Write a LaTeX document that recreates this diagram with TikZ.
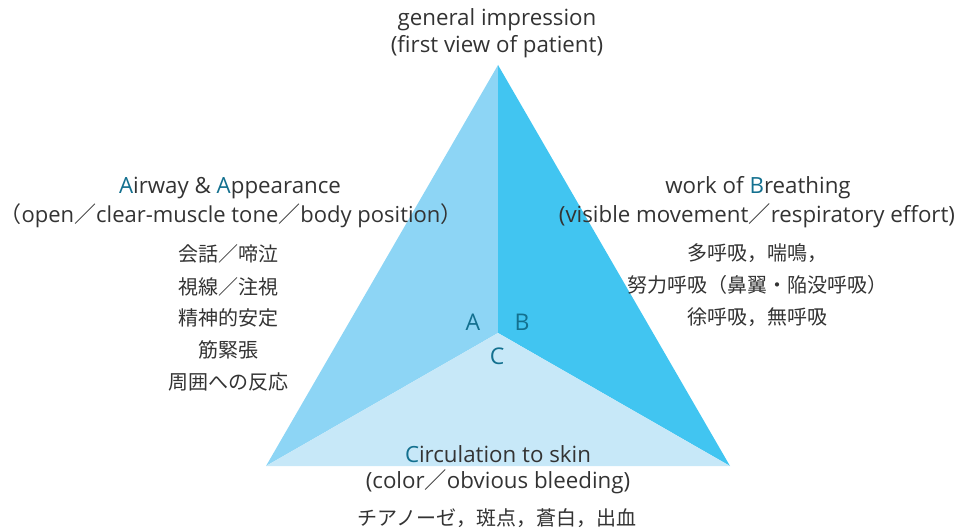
\documentclass[tikz,border=0pt]{standalone}
\usepackage{fontspec}
\setmainfont{Open Sans}
\newfontfamily\cjk{Noto Sans CJK JP}
\newcommand{\fsl}{{\cjk ／}}
\newcommand{\flp}{{\cjk （}}
\newcommand{\frp}{{\cjk ）}}
\definecolor{txt}{HTML}{333333}
\definecolor{teal}{HTML}{13708F}
\definecolor{leftblue}{HTML}{8DD5F5}
\definecolor{rightblue}{HTML}{41C5F1}
\definecolor{bottomblue}{HTML}{C7E8F8}
\begin{document}
\begin{tikzpicture}[x=1pt,y=-1pt,
  lbl/.style={text=txt,font=\fontsize{22.3}{26}\selectfont,inner sep=0pt,anchor=center},
  jp/.style={text=txt,font=\cjk\fontsize{20}{24}\selectfont,inner sep=0pt,anchor=center},
  letter/.style={text=teal,font=\fontsize{23}{27}\selectfont,inner sep=0pt,anchor=center}]
\useasboundingbox (0,0) rectangle (960,532);
\coordinate (apex) at (498,65);
\coordinate (ctr) at (498,333);
\coordinate (bl) at (266,466);
\coordinate (br) at (730,466);
\fill[leftblue] (apex) -- (ctr) -- (bl) -- cycle;
\fill[rightblue] (apex) -- (br) -- (ctr) -- cycle;
\fill[bottomblue] (bl) -- (ctr) -- (br) -- cycle;
% top
\node[lbl] (g1) at (497,20) {general impression};
\node[lbl] (g2) at (497,47) {(first view of patient)};
% A
\node[lbl] (a1) at (230,188) {\textcolor{teal}{A}irway \& \textcolor{teal}{A}ppearance};
\node[lbl,font=\fontsize{22}{26}\selectfont] (a2) at (231,216) {\flp open\fsl clear-muscle tone\fsl body position\frp};
\node[jp] (a3) at (228,254) {会話／啼泣};
\node[jp] (a4) at (228,287) {視線／注視};
\node[jp] (a5) at (228,318) {精神的安定};
\node[jp] (a6) at (228,350) {筋緊張};
\node[jp] (a7) at (228,382) {周囲への反応};
% B
\node[lbl] (b1) at (758,188) {work of \textcolor{teal}{B}reathing};
\node[lbl] (b2) at (757,216) {(visible movement\fsl respiratory effort)};
\node[jp] (b3) at (757,253) {多呼吸，喘鳴，};
\node[jp] (b4) at (757,285) {努力呼吸（鼻翼・陥没呼吸）};
\node[jp] (b5) at (757,317) {徐呼吸，無呼吸};
% C
\node[lbl] (c1) at (498,454) {\textcolor{teal}{C}irculation to skin};
\node[lbl] (c2) at (498,482) {(color\fsl obvious bleeding)};
\node[jp] (c3) at (497,518) {チアノーゼ，斑点，蒼白，出血};
% letters
\node[letter] (la) at (473,322) {A};
\node[letter] (lb) at (522,322) {B};
\node[letter] (lc) at (497,356) {C};
\end{tikzpicture}
\end{document}
